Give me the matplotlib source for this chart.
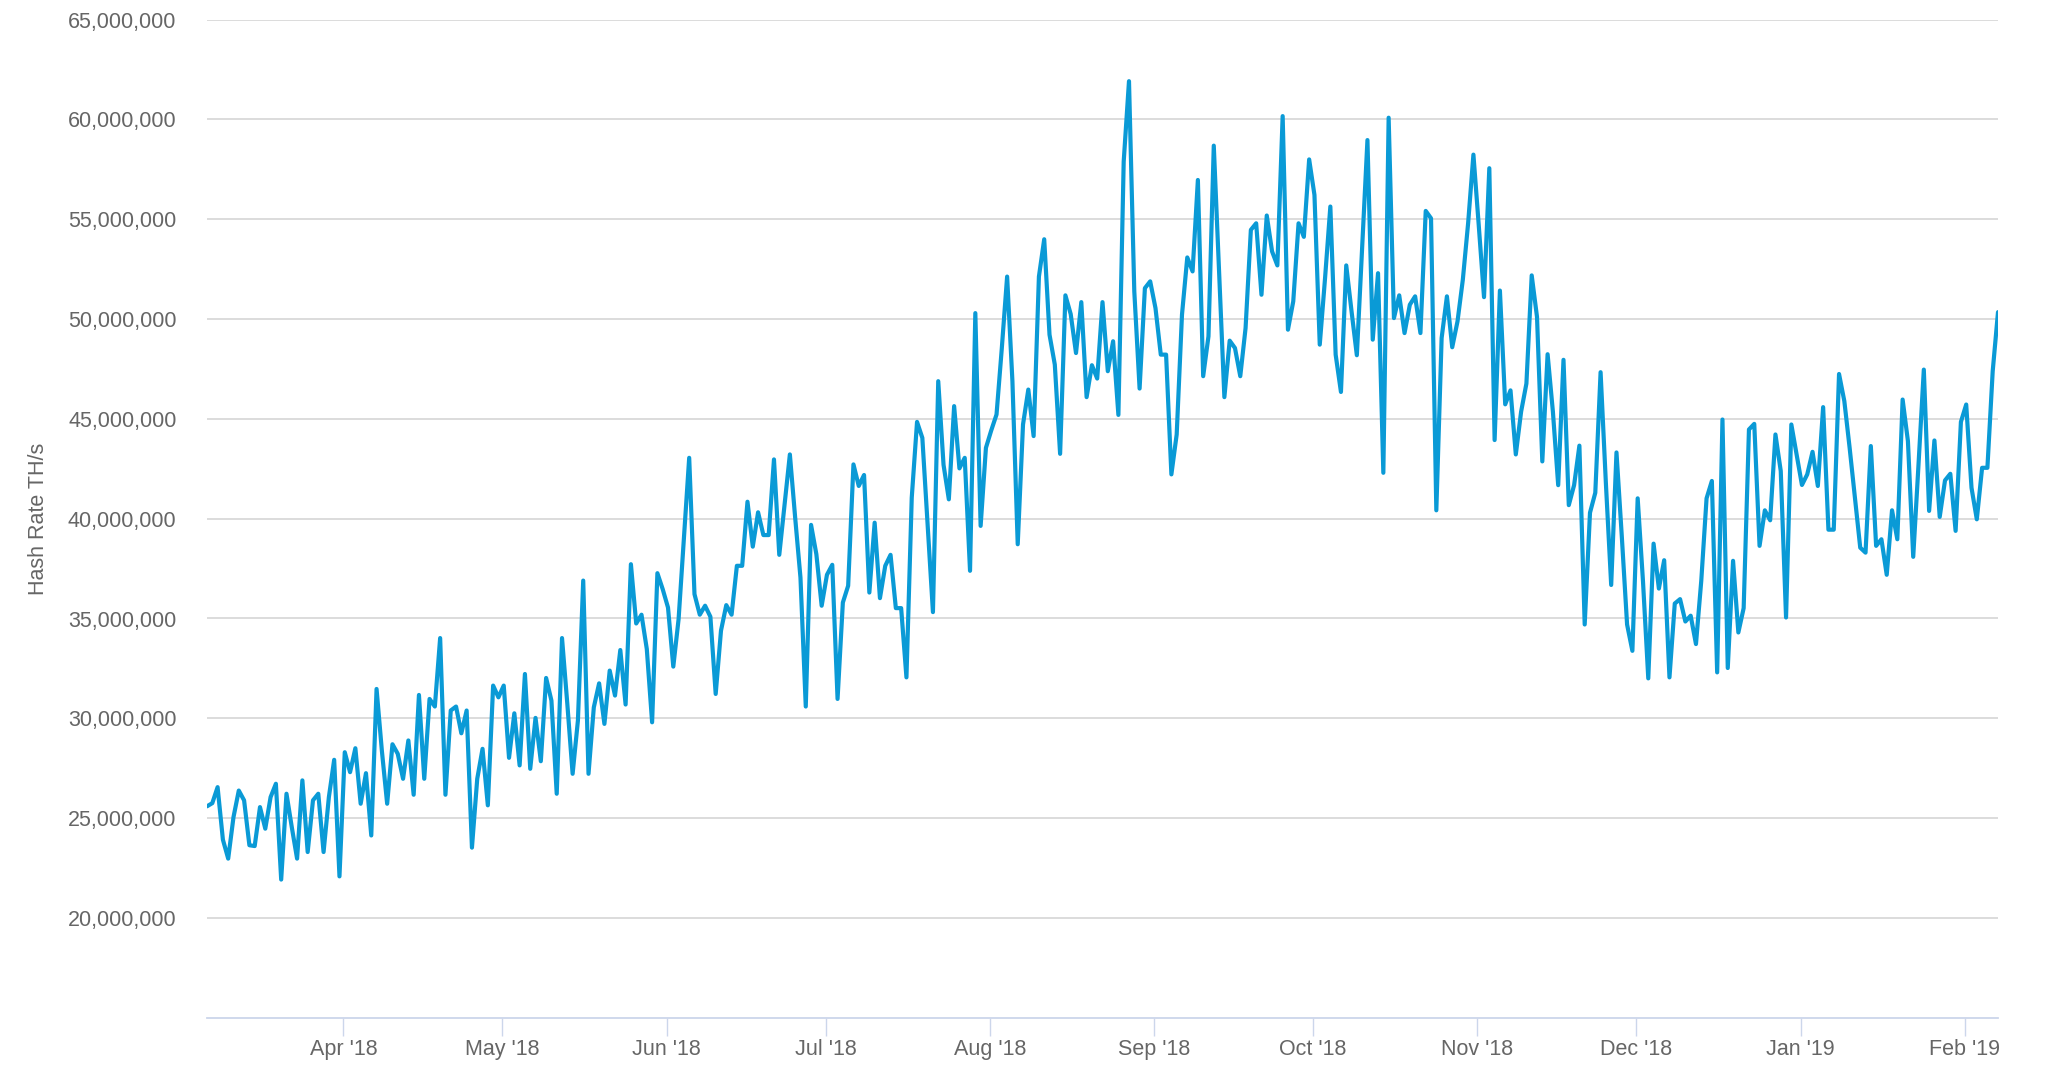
import matplotlib
matplotlib.use('Agg')
import matplotlib.pyplot as plt
import matplotlib.dates as mdates
from matplotlib.ticker import FuncFormatter
import pandas as pd

#------------------------------------------------------------------------------
# data (hash rate in millions of TH/s, one value per day)
start_date = '2018-03-06 06:00'

hash_rate_mth = [
    25.59, 25.75, 26.55, 23.92, 22.97, 25.05, 26.38, 25.89, 23.64, 23.60,
    25.55, 24.47, 26.05, 26.72, 21.92, 26.22, 24.55, 22.97, 26.89, 23.30,
    25.89, 26.22, 23.30, 26.05, 27.92, 22.08, 28.30, 27.30, 28.50, 25.72,
    27.25, 24.13, 31.47, 28.38, 25.72, 28.70, 28.22, 26.97, 28.89, 26.17,
    31.17, 26.97, 30.97, 30.59, 34.02, 26.17, 30.39, 30.59, 29.25, 30.39,
    23.52, 26.97, 28.47, 25.64, 31.64, 31.05, 31.64, 28.02, 30.25, 27.64,
    32.22, 27.47, 30.02, 27.85, 32.02, 30.89, 26.22, 34.02, 30.72, 27.22,
    29.89, 36.90, 27.22, 30.55, 31.75, 29.72, 32.39, 31.14, 33.42, 30.69,
    37.72, 34.75, 35.19, 33.47, 29.80, 37.27, 36.47, 35.55, 32.59, 34.97,
    39.05, 43.05, 36.22, 35.19, 35.64, 35.09, 31.22, 34.39, 35.67, 35.19,
    37.64, 37.64, 40.85, 38.60, 40.32, 39.18, 39.18, 42.97, 38.19, 40.72,
    43.22, 40.05, 37.05, 30.59, 39.69, 38.22, 35.64, 37.19, 37.69, 30.97,
    35.80, 36.64, 42.72, 41.64, 42.19, 36.30, 39.80, 36.02, 37.64, 38.19,
    35.52, 35.52, 32.05, 41.05, 44.85, 44.05, 39.72, 35.32, 46.89, 42.70,
    40.97, 45.64, 42.52, 43.05, 37.39, 50.30, 39.64, 43.55, 44.42, 45.22,
    48.55, 52.13, 46.89, 38.72, 44.72, 46.47, 44.14, 52.13, 54.00, 49.22,
    47.72, 43.25, 51.19, 50.25, 48.30, 50.85, 46.09, 47.69, 47.02, 50.85,
    47.39, 48.89, 45.20, 57.89, 61.92, 51.39, 46.52, 51.55, 51.89, 50.55,
    48.22, 48.22, 42.22, 44.22, 50.22, 53.09, 52.39, 56.97, 47.14, 49.14,
    58.69, 52.39, 46.09, 48.92, 48.55, 47.14, 49.55, 54.47, 54.80, 51.22,
    55.19, 53.39, 52.69, 60.17, 49.47, 50.89, 54.80, 54.12, 58.00, 56.22,
    48.72, 52.05, 55.64, 48.22, 46.35, 52.69, 50.39, 48.19, 53.55, 58.97,
    48.97, 52.30, 42.30, 60.09, 50.05, 51.19, 49.30, 50.72, 51.14, 49.30,
    55.42, 55.05, 40.42, 49.05, 51.14, 48.59, 49.89, 51.97, 54.80, 58.24,
    54.72, 51.10, 57.56, 43.94, 51.43, 45.73, 46.43, 43.22, 45.36, 46.77,
    52.19, 50.11, 42.87, 48.24, 45.36, 41.68, 47.96, 40.68, 41.68, 43.66,
    34.70, 40.30, 41.30, 47.34, 41.77, 36.68, 43.32, 39.13, 34.70, 33.38,
    41.02, 36.87, 32.00, 38.75, 36.50, 37.92, 32.05, 35.75, 35.97, 34.85,
    35.14, 33.72, 36.89, 41.02, 41.89, 32.30, 44.97, 32.52, 37.89, 34.30,
    35.52, 44.47, 44.75, 38.64, 40.42, 39.92, 44.22, 42.39, 35.05, 44.72,
    43.22, 41.69, 42.22, 43.35, 41.64, 45.59, 39.45, 39.45, 47.25, 45.89,
    43.55, 41.05, 38.55, 38.30, 43.64, 38.64, 38.97, 37.19, 40.42, 38.97,
    45.97, 43.89, 38.09, 42.72, 47.47, 40.39, 43.92, 40.09, 41.92, 42.25,
    39.39, 44.85, 45.72, 41.55, 39.97, 42.55, 42.55, 47.39, 50.35,
]

month_ticks = ['2018-04-01', '2018-05-01', '2018-06-01', '2018-07-01',
               '2018-08-01', '2018-09-01', '2018-10-01', '2018-11-01',
               '2018-12-01', '2019-01-01', '2019-02-01']
month_labels = ["Apr '18", "May '18", "Jun '18", "Jul '18", "Aug '18",
                "Sep '18", "Oct '18", "Nov '18", "Dec '18", "Jan '19",
                "Feb '19"]

y_ticks = [20e6, 25e6, 30e6, 35e6, 40e6, 45e6, 50e6, 55e6, 60e6, 65e6]

#------------------------------------------------------------------------------
plt.rcParams['font.family'] = ['Liberation Sans', 'DejaVu Sans']

dates = pd.date_range(start_date, periods=len(hash_rate_mth), freq='D')
values = [v * 1e6 for v in hash_rate_mth]

fig = plt.figure(figsize=(20.48, 10.68), dpi=100)
ax = fig.add_axes((207 / 2048, 1 - 1017.7 / 1068, 1791 / 2048, 998 / 1068))

ax.plot(dates, values, color='#0a9ad6', lw=3.0, solid_joinstyle='round',
        solid_capstyle='round', zorder=3)

# axes
ax.set_xlim(dates[0], dates[-1])
ax.set_ylim(15e6, 65e6)
ax.set_yticks(y_ticks)
ax.yaxis.set_major_formatter(FuncFormatter(lambda v, p: '{:,.0f}'.format(v)))
ax.set_xticks(pd.to_datetime(month_ticks))
ax.set_xticklabels(month_labels)

ax.grid(axis='y', color='#d9d9d9', lw=1.3, zorder=0)
for s in ['left', 'right', 'top']:
    ax.spines[s].set_visible(False)
ax.spines['bottom'].set_color('#ccd6eb')
ax.spines['bottom'].set_linewidth(1.3)
ax.spines['bottom'].set_clip_on(False)

ax.tick_params(axis='y', length=0, pad=22, labelsize=15.5, labelcolor='#666666')
ax.tick_params(axis='x', length=13, width=1.0, color='#ccd6eb', pad=2,
               labelsize=15.5, labelcolor='#666666')

fig.text(39 / 2048, 1 - 518.7 / 1068, 'Hash Rate TH/s', rotation=90,
         ha='center', va='center', fontsize=15.5, color='#666666')

fig.savefig('out.png', dpi=100)
